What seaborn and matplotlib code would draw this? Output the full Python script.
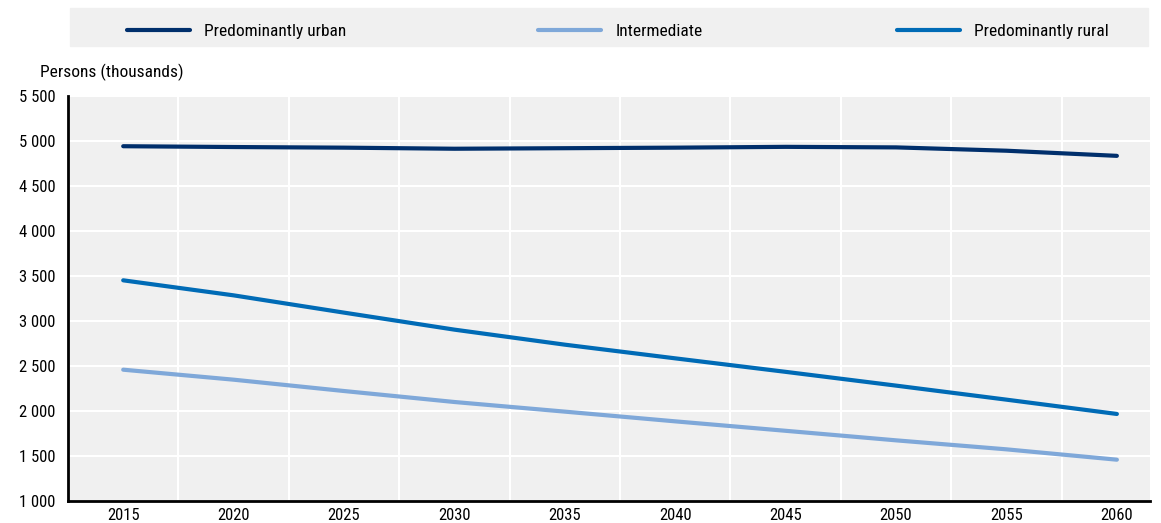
import pandas as pd
import numpy as np
import matplotlib
matplotlib.use("Agg")
import matplotlib.pyplot as plt
from matplotlib.patches import Rectangle
from matplotlib.ticker import FixedLocator, FuncFormatter
import seaborn as sns

# data (persons, thousands)
years = ["2015", "2020", "2025", "2030", "2035", "2040", "2045", "2050", "2055", "2060"]
urban = [4942, 4933, 4926, 4914, 4920, 4926, 4935, 4929, 4892, 4835]
intermediate = [2459, 2348, 2222, 2100, 1993, 1885, 1780, 1674, 1574, 1459]
rural = [3452, 3285, 3093, 2904, 2737, 2585, 2435, 2282, 2126, 1967]

series_names = ["Predominantly urban", "Intermediate", "Predominantly rural"]
colors = ["#002F6C", "#7FA8D9", "#006BB6"]

df = pd.DataFrame({
    "year": years * 3,
    "value": urban + intermediate + rural,
    "region": [series_names[0]] * 10 + [series_names[1]] * 10 + [series_names[2]] * 10,
})

sns.set_style("white")
plt.rcParams["font.family"] = ["Liberation Sans Narrow", "Arial Narrow", "Roboto Condensed",
                               "Liberation Sans", "DejaVu Sans"]
plt.rcParams["text.color"] = "black"
plt.rcParams["xtick.color"] = "black"
plt.rcParams["ytick.color"] = "black"

W, H = 1161, 523
fig = plt.figure(figsize=(W / 100, H / 100), dpi=100)
ax = fig.add_axes([68 / W, 1 - 501 / H, (1150 - 68) / W, (501 - 96) / H])
ax.set_facecolor("#F0F0F0")

sns.lineplot(data=df, x="year", y="value", hue="region", palette=colors,
             hue_order=series_names, linewidth=3, ax=ax, legend=False,
             solid_capstyle="round")

ax.set_xlim(-0.5, 9.3)
ax.set_ylim(1000, 5500)

# y axis
ax.yaxis.set_major_locator(FixedLocator(np.arange(1000, 5501, 500)))
ax.yaxis.set_major_formatter(FuncFormatter(lambda v, p: f"{int(v):,}".replace(",", " ")))
ax.tick_params(axis="y", length=5, width=1.5, color="black", labelsize=12, pad=4)

# x axis: labels centred, ticks / grid between categories
ax.set_xticks(range(len(years)))
ax.set_xticklabels(years)
ax.xaxis.set_minor_locator(FixedLocator(np.arange(0.5, 9, 1)))
ax.tick_params(axis="x", which="major", length=0, labelsize=12, pad=5)
ax.tick_params(axis="x", which="minor", length=5, width=1.5, color="black", direction="out")

ax.grid(axis="y", which="major", color="white", linewidth=1.5)
ax.grid(axis="x", which="minor", color="white", linewidth=1.5)
ax.grid(axis="x", which="major", visible=False)
ax.set_axisbelow(True)

ax.set_xlabel("")
ax.set_ylabel("")
for side in ["top", "right"]:
    ax.spines[side].set_visible(False)
for side in ["left", "bottom"]:
    ax.spines[side].set_color("black")
    ax.spines[side].set_linewidth(2)

fig.text(40 / W, 1 - 72 / H, "Persons (thousands)", fontsize=12.5, va="center", ha="left")

# legend band, one entry per series
fig.patches.append(Rectangle((70 / W, 1 - 46 / H), 1078 / W, 38 / H,
                             transform=fig.transFigure, color="#F0F0F0", zorder=0))
legend_x = [127, 538, 897]
for name, c, lx in zip(series_names, colors, legend_x):
    h = plt.Line2D([], [], color=c, linewidth=3)
    fig.legend([h], [name], loc="center left", frameon=False,
               bbox_to_anchor=(lx / W, 1 - 31 / H), borderpad=0, borderaxespad=0,
               handlelength=3.6, handletextpad=0.85, fontsize=12.5)

fig.savefig("out.png", dpi=100)
